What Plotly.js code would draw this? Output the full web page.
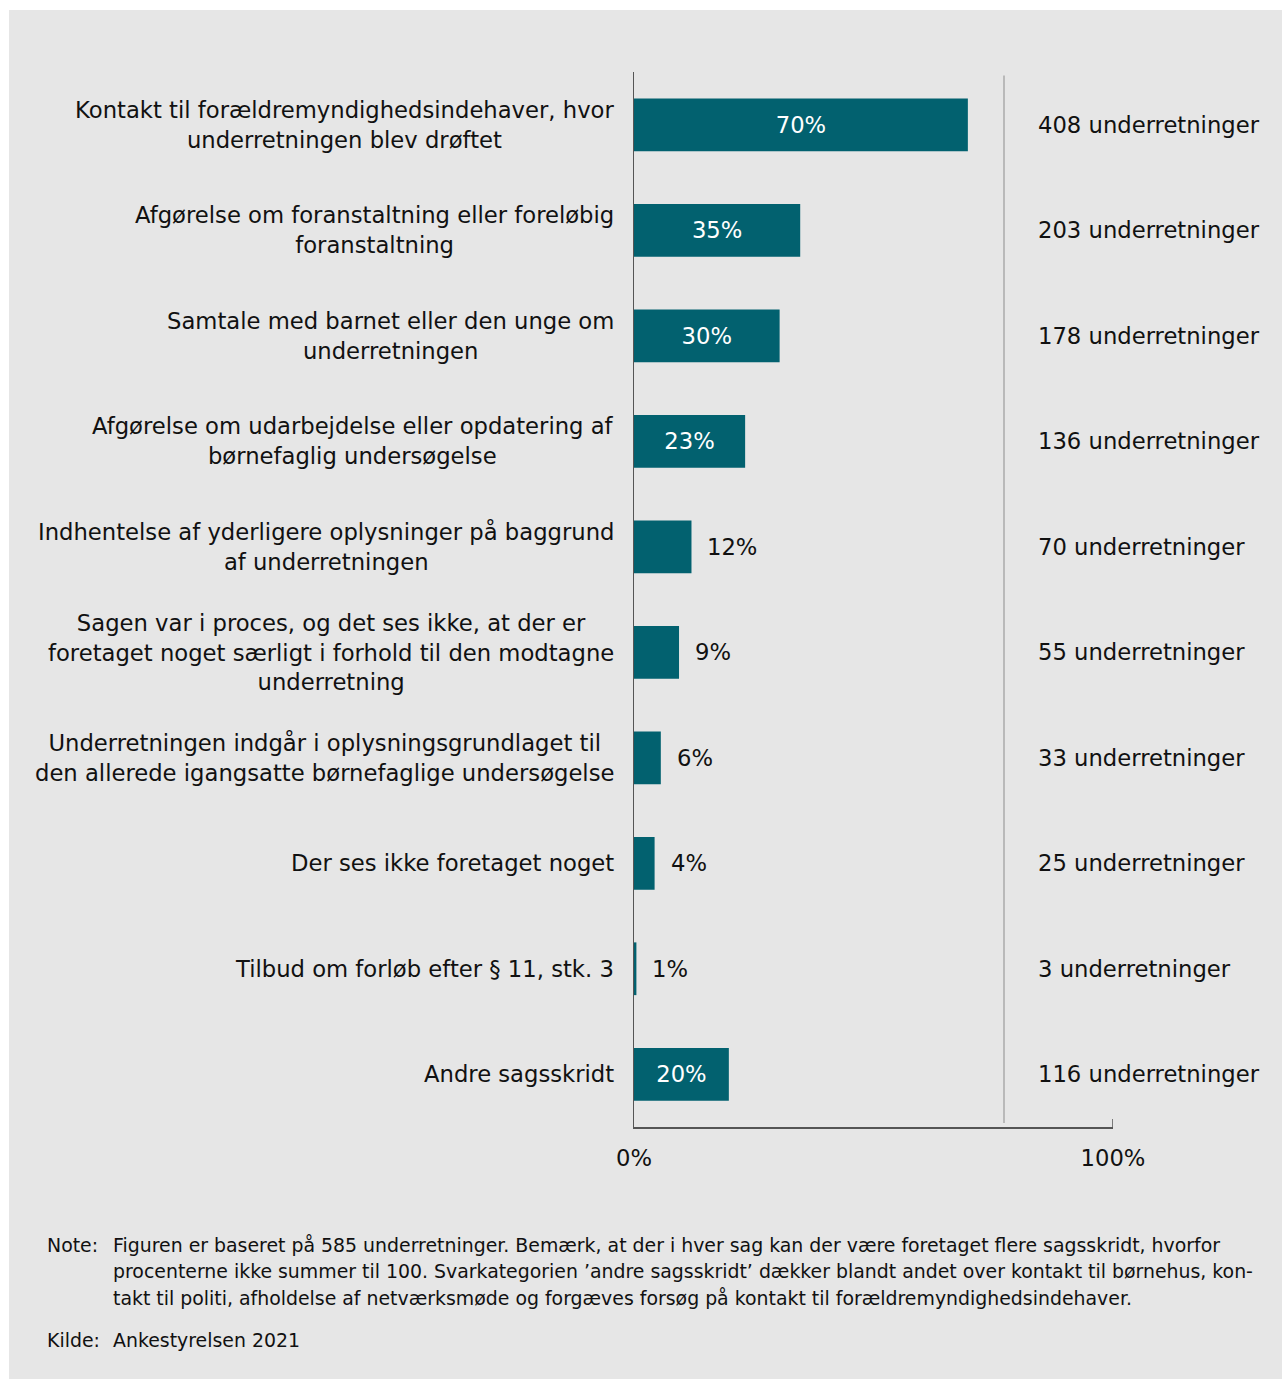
<!DOCTYPE html>
<html>
<head>
<meta charset="utf-8">
<script src="https://cdn.plot.ly/plotly-3.0.1.min.js"></script>
<style>
  html, body { margin: 0; padding: 0; background: #ffffff; }
  #chart { position: absolute; left: 9px; top: 10px; width: 1273px; height: 1369px; }
</style>
</head>
<body>
<div id="chart"></div>
<script>
// ---- data ----
const categories = [
  "Kontakt til forældremyndighedsindehaver, hvor<br>underretningen blev drøftet",
  "Afgørelse om foranstaltning eller foreløbig<br>foranstaltning",
  "Samtale med barnet eller den unge om<br>underretningen",
  "Afgørelse om udarbejdelse eller opdatering af<br>børnefaglig undersøgelse",
  "Indhentelse af yderligere oplysninger på baggrund<br>af underretningen",
  "Sagen var i proces, og det ses ikke, at der er<br>foretaget noget særligt i forhold til den modtagne<br>underretning",
  "Underretningen indgår i oplysningsgrundlaget til<br>den allerede igangsatte børnefaglige undersøgelse",
  "Der ses ikke foretaget noget",
  "Tilbud om forløb efter § 11, stk. 3",
  "Andre sagsskridt"
];
const percentValues = [69.7, 34.7, 30.4, 23.2, 12.0, 9.4, 5.6, 4.3, 0.5, 19.8];
const percentLabels = ["70%", "35%", "30%", "23%", "12%", "9%", "6%", "4%", "1%", "20%"];
const counts = [408, 203, 178, 136, 70, 55, 33, 25, 3, 116];
const xTickVals = [0, 100];
const xTickText = ["0%", "100%"];
const noteLines = [
  "Figuren er baseret på 585 underretninger. Bemærk, at der i hver sag kan der være foretaget flere sagsskridt, hvorfor",
  "procenterne ikke summer til 100. Svarkategorien ’andre sagsskridt’ dækker blandt andet over kontakt til børnehus, kon-",
  "takt til politi, afholdelse af netværksmøde og forgæves forsøg på kontakt til forældremyndighedsindehaver."
];
const sourceText = "Ankestyrelsen 2021";

// ---- styling ----
const FONT = "DejaVu Sans, Verdana, sans-serif";
const TXT = "#111111";
const BAR = "#02616f";
const FS = 22.7;
const insideThreshold = 15;

// pixel helpers (page pixels -> paper coords of plot area)
const PL = 634, PR = 1113, PT = 71.5, PB = 1127;
const px2x = px => (px - PL) / (PR - PL);
const px2y = py => (PB - py) / (PB - PT);

const insideText = percentValues.map((v, i) => v >= insideThreshold ? percentLabels[i] : "");

const trace = {
  type: "bar",
  orientation: "h",
  x: percentValues,
  y: categories,
  marker: { color: BAR, line: { width: 0 } },
  text: insideText,
  textposition: "inside",
  insidetextanchor: "middle",
  textangle: 0,
  constraintext: "none",
  textfont: { family: FONT, size: FS, color: "#ffffff" },
  hoverinfo: "skip",
  cliponaxis: false
};

const annotations = [];
// category labels (centered lines, right aligned block)
categories.forEach((c, i) => {
  annotations.push({
    xref: "paper", yref: "y", x: 0, y: c, xanchor: "right", yanchor: "middle",
    xshift: -18, align: "center", showarrow: false, text: c,
    font: { family: FONT, size: FS, color: TXT }
  });
});
// outside percentage labels
percentValues.forEach((v, i) => {
  if (v < insideThreshold) {
    annotations.push({
      xref: "x", yref: "y", x: v, y: categories[i], xanchor: "left", yanchor: "middle",
      xshift: 14, showarrow: false, text: percentLabels[i],
      font: { family: FONT, size: FS, color: TXT }
    });
  }
});
// count labels
counts.forEach((n, i) => {
  annotations.push({
    xref: "paper", yref: "y", x: px2x(1036), y: categories[i], xanchor: "left", yanchor: "middle",
    showarrow: false, text: n + " underretninger",
    font: { family: FONT, size: FS, color: TXT }
  });
});
// notes
const noteFont = { family: FONT, size: 18.9, color: TXT };
annotations.push({ xref: "paper", yref: "paper", x: px2x(45), y: px2y(1245), xanchor: "left", yanchor: "middle", showarrow: false, text: "Note:", font: noteFont });
const noteY = [1245, 1271.5, 1298];
noteLines.forEach((t, i) => {
  annotations.push({ xref: "paper", yref: "paper", x: px2x(111), y: px2y(noteY[i]), xanchor: "left", yanchor: "middle", showarrow: false, text: t, font: noteFont });
});
annotations.push({ xref: "paper", yref: "paper", x: px2x(45), y: px2y(1340), xanchor: "left", yanchor: "middle", showarrow: false, text: "Kilde:", font: noteFont });
annotations.push({ xref: "paper", yref: "paper", x: px2x(111), y: px2y(1340), xanchor: "left", yanchor: "middle", showarrow: false, text: sourceText, font: noteFont });

const layout = {
  width: 1273, height: 1369,
  margin: { l: PL - 9, r: 1282 - PR, t: PT - 10, b: 1379 - PB, pad: 0 },
  paper_bgcolor: "#e6e6e6",
  plot_bgcolor: "rgba(0,0,0,0)",
  showlegend: false,
  bargap: 0.5,
  font: { family: FONT, size: FS, color: TXT },
  xaxis: {
    range: [0, 100], tickvals: xTickVals, ticktext: xTickText,
    ticks: "", 
    showline: true, linecolor: "#555555", linewidth: 1.5,
    showgrid: false, zeroline: false, fixedrange: true,
    ticklabelstandoff: 10,
    tickfont: { family: FONT, size: FS, color: TXT }
  },
  yaxis: {
    type: "category",
    autorange: "reversed",
    showticklabels: false, ticks: "",
    showline: true, linecolor: "#555555", linewidth: 1.5,
    showgrid: false, zeroline: false, fixedrange: true
  },
  shapes: [
    { type: "line", xref: "paper", yref: "paper", x0: px2x(1004), x1: px2x(1004), y0: px2y(1123), y1: px2y(75),
      line: { color: "#b9b9b9", width: 2 } },
    { type: "line", xref: "x", yref: "paper", x0: xTickVals[1], x1: xTickVals[1], y0: 0, y1: px2y(1119),
      line: { color: "#555555", width: 1.5 } }
  ],
  annotations: annotations
};

Plotly.newPlot("chart", [trace], layout, { displayModeBar: false, staticPlot: true });
</script>
</body>
</html>
